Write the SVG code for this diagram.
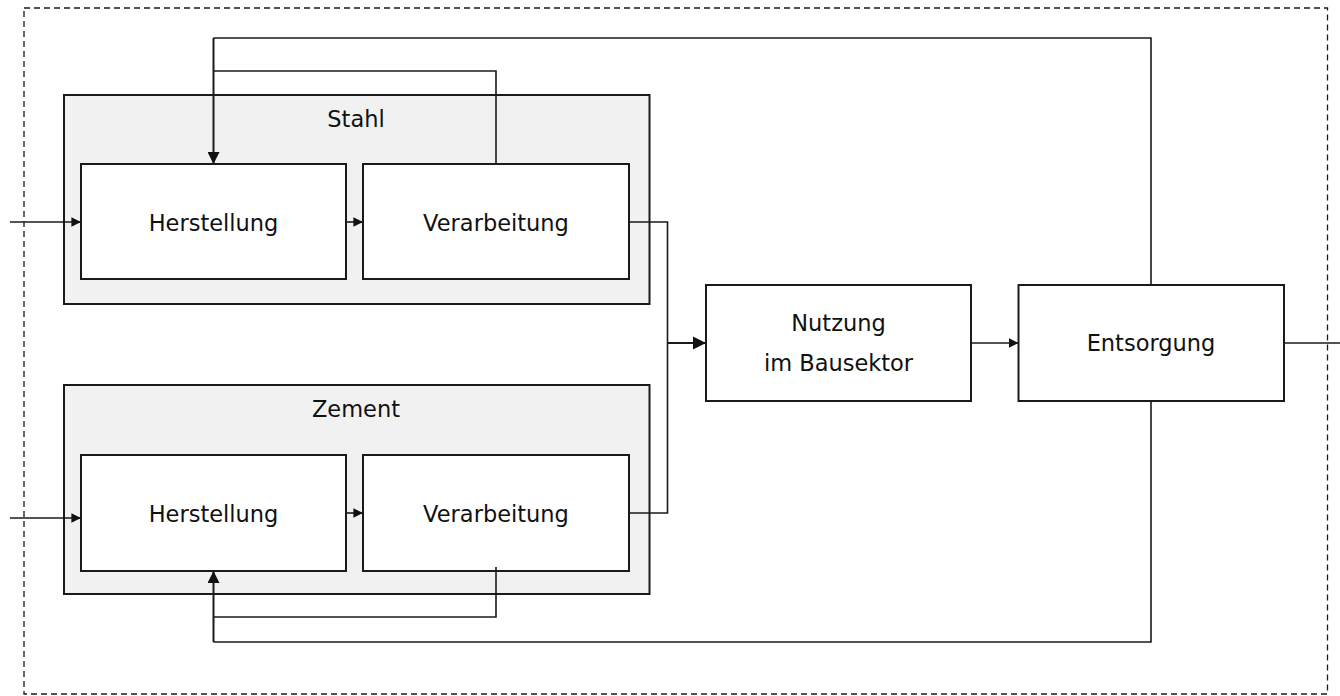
<svg xmlns="http://www.w3.org/2000/svg" width="1340" height="696" viewBox="0 0 1340 696">
<defs>
<style>
.box{fill:#ffffff;stroke:#1a1a1a;stroke-width:2}
.grp{fill:#f1f1f1;stroke:#1a1a1a;stroke-width:2}
.lbl{font-family:"DejaVu Sans","Noto Sans",sans-serif;font-size:22.5px;fill:#111;text-anchor:middle}
.c{fill:none;stroke:#1a1a1a;stroke-width:1.6}
.ca{fill:none;stroke:#1a1a1a;stroke-width:1.6;marker-end:url(#ah)}
.border{fill:none;stroke:#1a1a1a;stroke-width:1.3;stroke-dasharray:6 4}
</style>
<marker id="ah" viewBox="0 0 10 10" refX="10" refY="5" markerWidth="6" markerHeight="6" markerUnits="strokeWidth" orient="auto">
<path d="M0,0 L10,5 L0,10 z" fill="#111"/>
</marker>
</defs>
<rect width="1340" height="696" fill="#ffffff"/>
<rect class="border" x="24" y="8" width="1303.5" height="686"/>

<g id="stahl">
<rect class="grp" x="64" y="95" width="585.5" height="209"/>
<text class="lbl" x="356" y="127">Stahl</text>
</g>
<g id="stahl-herstellung">
<rect class="box" x="81" y="164" width="265" height="115"/>
<text class="lbl" x="213.5" y="231">Herstellung</text>
</g>
<g id="stahl-verarbeitung">
<rect class="box" x="363" y="164" width="266" height="115"/>
<text class="lbl" x="496" y="231">Verarbeitung</text>
</g>

<g id="zement">
<rect class="grp" x="64" y="385" width="585.5" height="209"/>
<text class="lbl" x="356" y="417">Zement</text>
</g>
<g id="zement-herstellung">
<rect class="box" x="81" y="455" width="265" height="116"/>
<text class="lbl" x="213.5" y="522">Herstellung</text>
</g>
<g id="zement-verarbeitung">
<rect class="box" x="363" y="455" width="266" height="116"/>
<text class="lbl" x="496" y="522">Verarbeitung</text>
</g>

<g id="nutzung">
<rect class="box" x="706" y="285" width="265" height="116"/>
<text class="lbl" x="838.5" y="331">Nutzung</text>
<text class="lbl" x="838.5" y="371">im Bausektor</text>
</g>
<g id="entsorgung">
<rect class="box" x="1018.5" y="285" width="265.5" height="116"/>
<text class="lbl" x="1151" y="351">Entsorgung</text>
</g>

<g id="connectors">
<path class="ca" d="M10,222 H81"/>
<path class="ca" d="M10,518 H81"/>
<path class="ca" d="M346,222 H363"/>
<path class="ca" d="M346,513 H363"/>
<path class="c" d="M629,222 H667.5 V513 H629"/>
<path class="ca" d="M667.5,343 H706" style="stroke-width:2.2"/>
<path class="ca" d="M971,343 H1018.5"/>
<path class="c" d="M1284,343 H1340"/>
<path class="c" d="M1151,285 V38 H213.5"/>
<path class="c" d="M496,164 V71 H213.5"/>
<path class="ca" d="M213.5,38 V164" style="stroke-width:2"/>
<path class="c" d="M1151,401 V642 H213.5"/>
<path class="c" d="M496,567 V617 H213.5"/>
<path class="ca" d="M213.5,642 V571" style="stroke-width:2"/>
</g>
</svg>
